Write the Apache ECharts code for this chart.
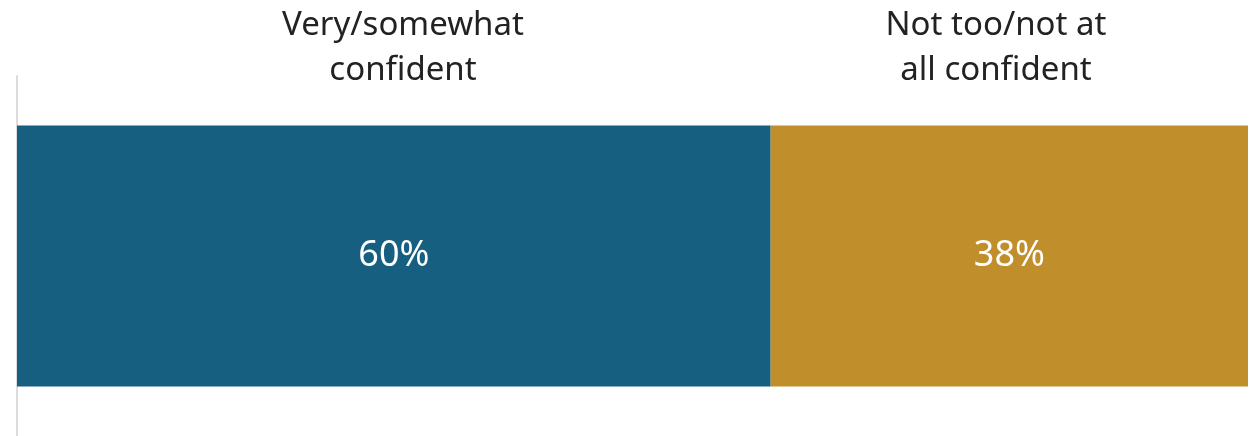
<!DOCTYPE html>
<html>
<head>
<meta charset="utf-8">
<script src="https://cdn.jsdelivr.net/npm/echarts@6/dist/echarts.min.js"></script>
<style>
html,body{margin:0;padding:0;background:#fff;}
#c{width:1253px;height:436px;}
</style>
</head>
<body>
<div id="c"></div>
<script>
var categories = ['All'];
var seriesNames = ['Very/somewhat\nconfident', 'Not too/not at\nall confident'];
var confident = [60];
var notConfident = [38];
var colors = ['#175f80', '#c18e2c'];
var FONT = '"Noto Sans", sans-serif';

var chart = echarts.init(document.getElementById('c'), null, {renderer: 'canvas'});
chart.setOption({
  animation: false,
  grid: {left: 17, right: 5, top: 76, bottom: 0},
  xAxis: {type: 'value', min: 0, max: 98, show: false},
  yAxis: {
    type: 'category', data: categories,
    axisLine: {show: true, lineStyle: {color: '#dcdcdc', width: 2}},
    axisTick: {show: false}, axisLabel: {show: false}, splitLine: {show: false}
  },
  series: [
    {name: seriesNames[0], type: 'bar', stack: 't', data: confident, barWidth: 261,
     itemStyle: {color: colors[0]},
     label: {show: true, position: 'inside', color: '#fff', fontSize: 36, fontFamily: FONT,
             formatter: function(p){return p.value + '%';}}},
    {name: seriesNames[1], type: 'bar', stack: 't', data: notConfident, barWidth: 261,
     itemStyle: {color: colors[1]},
     label: {show: true, position: 'inside', color: '#fff', fontSize: 36, fontFamily: FONT,
             formatter: function(p){return p.value + '%';}}}
  ],
  graphic: [
    {type: 'text', x: 403, y: 3, style: {text: seriesNames[0], align: 'center', verticalAlign: 'top',
      font: '33px ' + FONT, lineHeight: 45, fill: '#222'}},
    {type: 'text', x: 996, y: 3, style: {text: seriesNames[1], align: 'center', verticalAlign: 'top',
      font: '33px ' + FONT, lineHeight: 45, fill: '#222'}}
  ]
});
</script>
</body>
</html>
